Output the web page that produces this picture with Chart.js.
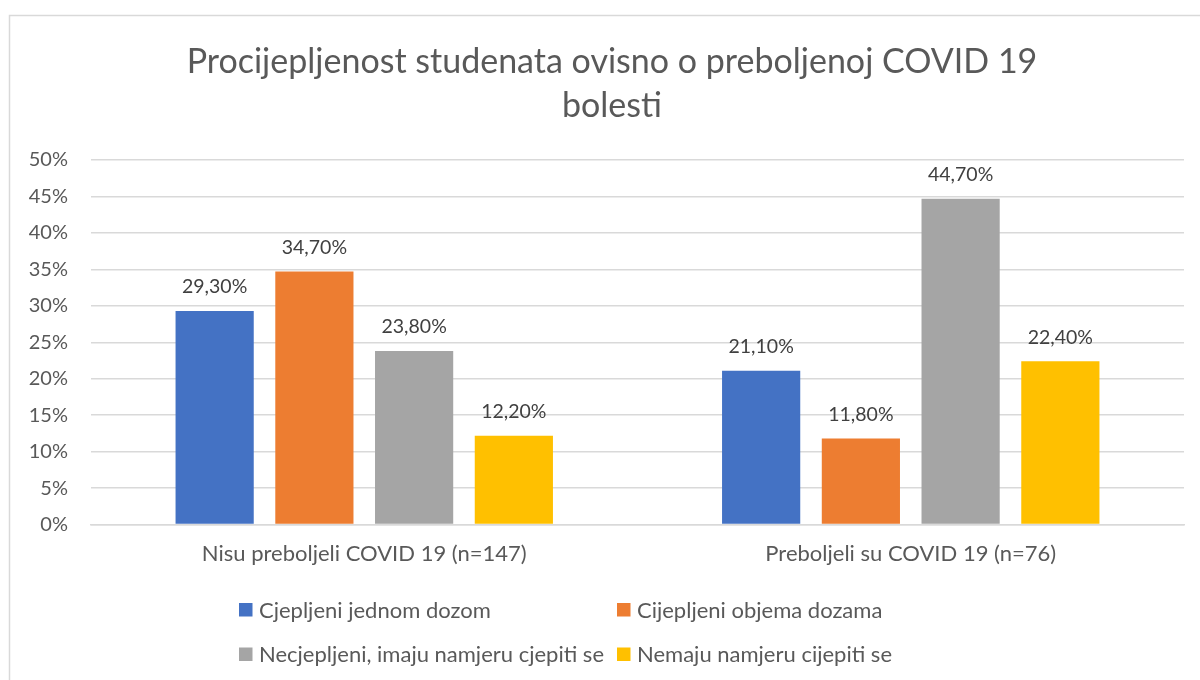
<!DOCTYPE html>
<html>
<head>
<meta charset="utf-8">
<script src="https://cdn.jsdelivr.net/npm/chart.js@4"></script>
<style>
html,body{margin:0;padding:0;background:#fff;}
#wrap{position:relative;width:1200px;height:680px;}
</style>
</head>
<body>
<div id="wrap"><canvas id="c" width="1200" height="680"></canvas></div>
<script>
const categories = ['Nisu preboljeli COVID 19 (n=147)', 'Preboljeli su COVID 19 (n=76)'];
const seriesNames = ['Cjepljeni jednom dozom', 'Cijepljeni objema dozama', 'Necjepljeni, imaju namjeru cjepiti se', 'Nemaju namjeru cijepiti se'];
const jednomDozom = [29.3, 21.1];
const objemaDozama = [34.7, 11.8];
const imajuNamjeru = [23.8, 44.7];
const nemajuNamjeru = [12.2, 22.4];
const colors = ['#4472C4', '#ED7D31', '#A5A5A5', '#FFC000'];
const titleLines = ['Procijepljenost studenata ovisno o preboljenoj COVID 19', 'bolesti'];

const FONT = 'Lato, "Open Sans", sans-serif';

const values = [jednomDozom, objemaDozama, imajuNamjeru, nemajuNamjeru];

const framePlugin = {
  id: 'frame',
  beforeDraw(chart) {
    const ctx = chart.ctx;
    ctx.save();
    ctx.fillStyle = '#fff';
    ctx.fillRect(0, 0, chart.width, chart.height);
    ctx.strokeStyle = '#d9d9d9';
    ctx.lineWidth = 1.5;
    ctx.strokeRect(9.5, 15.5, 1300, 800);
    ctx.restore();
  }
};

const titlePlugin = {
  id: 'twoLineTitle',
  afterDraw(chart) {
    const ctx = chart.ctx;
    ctx.save();
    ctx.font = '34px ' + FONT;
    ctx.fillStyle = '#595959';
    ctx.textAlign = 'center';
    ctx.textBaseline = 'middle';
    titleLines.forEach((line, i) => ctx.fillText(line, 612, 62 + i * 44));
    ctx.restore();
  }
};

const labelPlugin = {
  id: 'barLabels',
  afterDatasetsDraw(chart) {
    const ctx = chart.ctx;
    ctx.save();
    ctx.font = '19.5px ' + FONT;
    ctx.fillStyle = '#404040';
    ctx.textAlign = 'center';
    ctx.textBaseline = 'middle';
    chart.data.datasets.forEach((ds, i) => {
      const meta = chart.getDatasetMeta(i);
      meta.data.forEach((bar, j) => {
        const v = ds.data[j];
        const txt = v.toFixed(2).replace('.', ',') + '%';
        ctx.fillText(txt, bar.x, bar.y - 24);
      });
    });
    ctx.restore();
  }
};

const legendPlugin = {
  id: 'gridLegend',
  afterDraw(chart) {
    const ctx = chart.ctx;
    ctx.save();
    ctx.font = '22px ' + FONT;
    ctx.textBaseline = 'middle';
    ctx.textAlign = 'left';
    const cols = [239, 617];
    const rows = [609.5, 654];
    chart.data.datasets.forEach((ds, i) => {
      const x = cols[i % 2];
      const y = rows[Math.floor(i / 2)];
      ctx.fillStyle = ds.backgroundColor;
      ctx.fillRect(x, y - 6.5, 13.5, 13.5);
      ctx.fillStyle = '#595959';
      ctx.fillText(ds.label, x + 20, y + 1);
    });
    ctx.restore();
  }
};

new Chart(document.getElementById('c'), {
  type: 'bar',
  data: {
    labels: categories,
    datasets: seriesNames.map((name, i) => ({
      label: name,
      data: values[i],
      backgroundColor: colors[i],
      borderWidth: 0,
      categoryPercentage: 0.73,
      barPercentage: 0.784
    }))
  },
  options: {
    responsive: false,
    animation: false,
    devicePixelRatio: 1,
    layout: { padding: { left: 10, right: 16, top: 160, bottom: 97 } },
    plugins: {
      legend: { display: false },
      tooltip: { enabled: false },
      title: { display: false }
    },
    scales: {
      x: {
        grid: { display: false, drawTicks: false },
        border: { display: true, color: '#d9d9d9', width: 1.5 },
        ticks: { color: '#595959', font: { family: FONT, size: 22 }, padding: 16, maxRotation: 0 }
      },
      y: {
        min: 0, max: 50,
        afterFit(scale) { scale.width = 81; },
        grid: { color: '#d9d9d9', lineWidth: 1.5, drawTicks: false },
        border: { display: false },
        ticks: {
          stepSize: 5,
          color: '#595959',
          font: { family: FONT, size: 20 },
          padding: 23,
          callback: v => v + '%'
        }
      }
    }
  },
  plugins: [framePlugin, titlePlugin, labelPlugin, legendPlugin]
});
</script>
</body>
</html>
